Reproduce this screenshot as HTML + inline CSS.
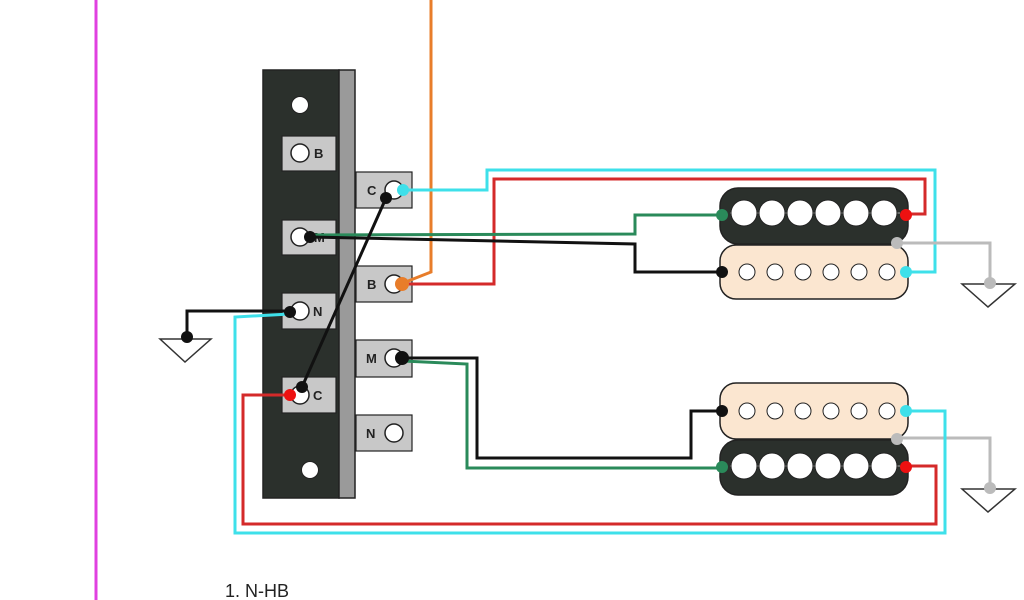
<!DOCTYPE html>
<html><head><meta charset="utf-8"><style>html,body{margin:0;padding:0;background:#fff}svg{display:block}</style></head>
<body>
<svg width="1024" height="600" viewBox="0 0 1024 600" xmlns="http://www.w3.org/2000/svg" font-family="Liberation Sans, sans-serif">
<line x1="96" y1="0" x2="96" y2="600" stroke="#e040e0" stroke-width="3"/>
<!-- switch -->
<rect x="263" y="70" width="76" height="428" fill="#2b302c" stroke="#222" stroke-width="1.5"/>
<rect x="339" y="70" width="16" height="428" fill="#9a9a9a" stroke="#222" stroke-width="1.5"/>
<circle cx="300" cy="105" r="8.5" fill="#fff" stroke="#222"/>
<circle cx="310" cy="470" r="8.5" fill="#fff" stroke="#222"/>
<g fill="#c8c8c8" stroke="#222" stroke-width="1.2">
<rect x="282" y="136" width="54" height="35"/><rect x="282" y="220" width="54" height="35"/>
<rect x="282" y="293" width="54" height="36"/><rect x="282" y="377" width="54" height="36"/>
<rect x="356" y="172" width="56" height="36"/><rect x="356" y="266" width="56" height="36"/>
<rect x="356" y="340" width="56" height="37"/><rect x="356" y="415" width="56" height="36"/>
</g>
<g fill="#fff" stroke="#222" stroke-width="1.5">
<circle cx="300" cy="153" r="9"/><circle cx="300" cy="237" r="9"/><circle cx="300" cy="311" r="9"/><circle cx="300" cy="395" r="9"/>
<circle cx="394" cy="190" r="9"/><circle cx="394" cy="284" r="9"/><circle cx="394" cy="358" r="9"/><circle cx="394" cy="433" r="9"/>
</g>
<g font-size="13" font-weight="bold" fill="#222">
<text x="314" y="158">B</text><text x="314" y="242">M</text><text x="313" y="316">N</text><text x="313" y="400">C</text>
<text x="367" y="195">C</text><text x="367" y="289">B</text><text x="366" y="363">M</text><text x="366" y="438">N</text>
</g>
<!-- pickups -->
<g stroke="#222" stroke-width="1.5">
<rect x="720" y="188" width="188" height="56" rx="18" fill="#2b302c"/>
<rect x="720" y="245" width="188" height="54" rx="16" fill="#fbe6d0"/>
<rect x="720" y="383" width="188" height="56" rx="16" fill="#fbe6d0"/>
<rect x="720" y="440" width="188" height="55" rx="18" fill="#2b302c"/>
</g>
<line x1="730" y1="213" x2="900" y2="213" stroke="#aaa"/>
<line x1="730" y1="466" x2="900" y2="466" stroke="#aaa"/>
<g fill="#fff" stroke="#222">
<circle cx="744" cy="213" r="13"/><circle cx="772" cy="213" r="13"/><circle cx="800" cy="213" r="13"/><circle cx="828" cy="213" r="13"/><circle cx="856" cy="213" r="13"/><circle cx="884" cy="213" r="13"/>
<circle cx="744" cy="466" r="13"/><circle cx="772" cy="466" r="13"/><circle cx="800" cy="466" r="13"/><circle cx="828" cy="466" r="13"/><circle cx="856" cy="466" r="13"/><circle cx="884" cy="466" r="13"/>
<circle cx="747" cy="272" r="8"/><circle cx="775" cy="272" r="8"/><circle cx="803" cy="272" r="8"/><circle cx="831" cy="272" r="8"/><circle cx="859" cy="272" r="8"/><circle cx="887" cy="272" r="8"/>
<circle cx="747" cy="411" r="8"/><circle cx="775" cy="411" r="8"/><circle cx="803" cy="411" r="8"/><circle cx="831" cy="411" r="8"/><circle cx="859" cy="411" r="8"/><circle cx="887" cy="411" r="8"/>
</g>
<!-- wires -->
<g fill="none" stroke-width="3" stroke-linejoin="miter">
<polyline points="431,0 431,272 403,283" stroke="#e87d2a"/>
<polyline points="403,190 487,190 487,170 935,170 935,272 906,272" stroke="#3ee0ea"/>
<polyline points="403,284 494,284 494,179 925,179 925,214 906,214" stroke="#d42a2a"/>
<polyline points="310,235 635,234 635,215 722,215" stroke="#2a8a5a"/>
<polyline points="310,237 635,244 635,272 722,272" stroke="#111"/>
<polyline points="897,243 990,243 990,283" stroke="#bbb"/>
<polyline points="897,438 990,438 990,488" stroke="#bbb"/>
<polyline points="290,311 187,311 187,338" stroke="#111"/>
<polyline points="290,314 235,317 235,533 945,533 945,411 906,411" stroke="#3ee0ea"/>
<polyline points="290,395 243,395 243,524 936,524 936,466 906,466" stroke="#d42a2a"/>
<line x1="386" y1="198" x2="302" y2="387" stroke="#111"/>
<polyline points="403,358 477,358 477,458 691,458 691,411 722,411" stroke="#111"/>
<polyline points="403,361 467,364 467,468 722,468" stroke="#2a8a5a"/>
</g>
<g fill="none" stroke="#333" stroke-width="1.5">
<polygon points="160,339 211,339 185,362"/>
<polygon points="962,284 1015,284 988,307"/>
<polygon points="962,489 1015,489 988,512"/>
</g>
<!-- dots -->
<circle cx="403" cy="190" r="6" fill="#3ee0ea"/>
<circle cx="386" cy="198" r="6" fill="#111"/>
<circle cx="402" cy="284" r="7" fill="#e87d2a"/>
<circle cx="310" cy="237" r="6" fill="#111"/>
<circle cx="290" cy="312" r="6" fill="#111"/>
<circle cx="290" cy="395" r="6" fill="#e11"/>
<circle cx="302" cy="387" r="6" fill="#111"/>
<circle cx="402" cy="358" r="7" fill="#111"/>
<circle cx="187" cy="337" r="6" fill="#111"/>
<circle cx="722" cy="215" r="6" fill="#2a8a5a"/>
<circle cx="906" cy="215" r="6" fill="#e11"/>
<circle cx="897" cy="243" r="6" fill="#bbb"/>
<circle cx="722" cy="272" r="6" fill="#111"/>
<circle cx="906" cy="272" r="6" fill="#3ee0ea"/>
<circle cx="722" cy="411" r="6" fill="#111"/>
<circle cx="906" cy="411" r="6" fill="#3ee0ea"/>
<circle cx="897" cy="439" r="6" fill="#bbb"/>
<circle cx="722" cy="467" r="6" fill="#2a8a5a"/>
<circle cx="906" cy="467" r="6" fill="#e11"/>
<circle cx="990" cy="283" r="6" fill="#bbb"/>
<circle cx="990" cy="488" r="6" fill="#bbb"/>
<text x="225" y="597" font-size="18" fill="#222">1. N-HB</text>
</svg>
</body></html>
